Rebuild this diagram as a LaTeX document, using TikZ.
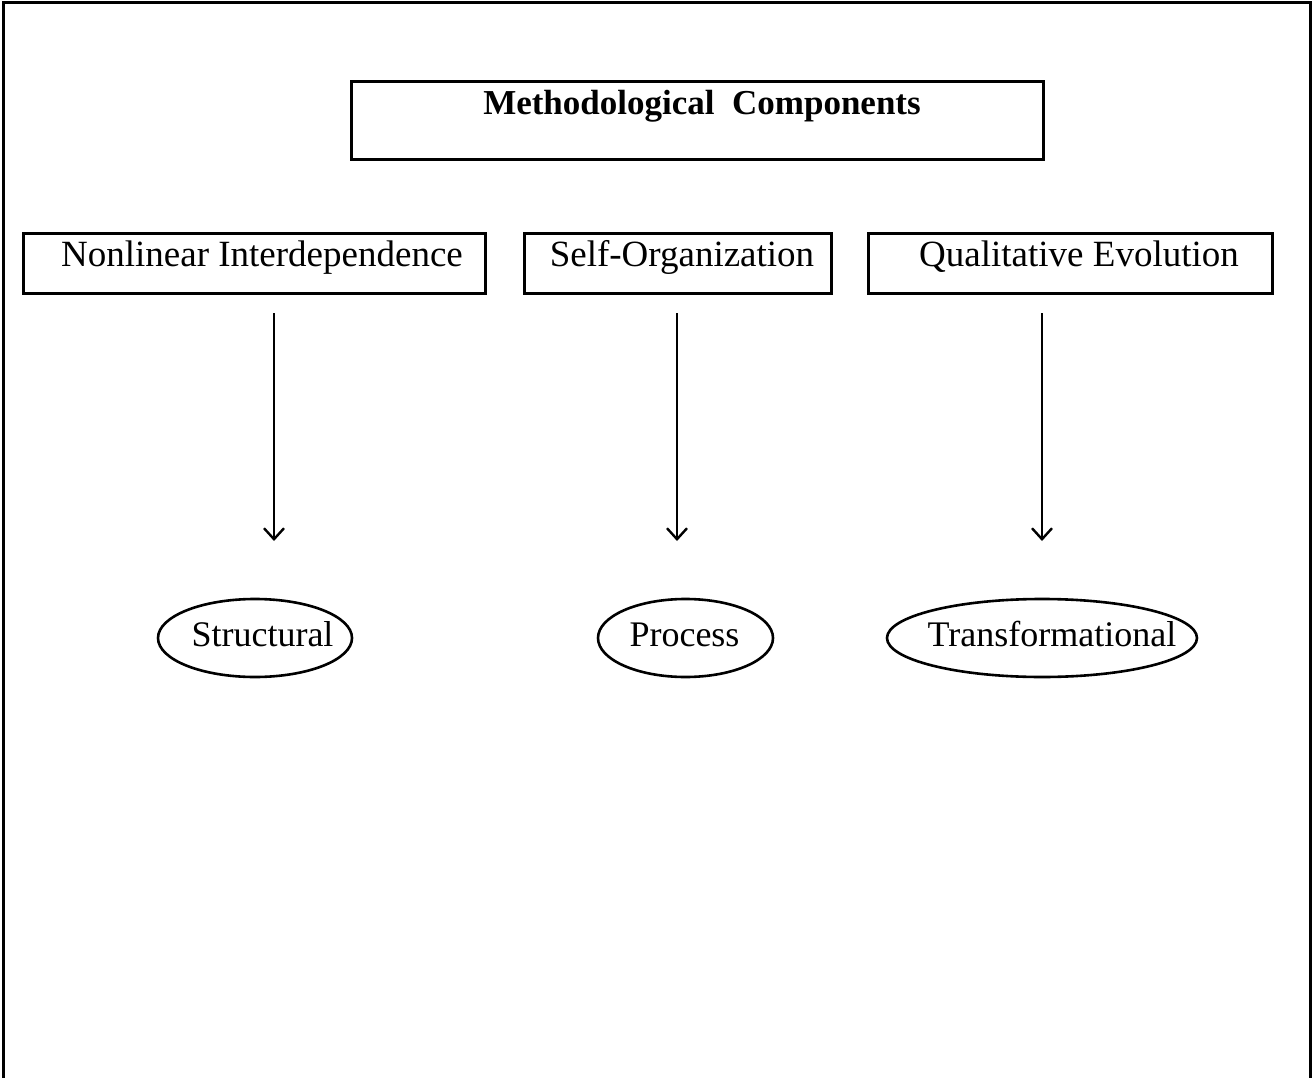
\documentclass[tikz,border=0pt]{standalone}
\usepackage{fontspec}
\setmainfont{Liberation Serif}
\usetikzlibrary{arrows.meta,shapes.geometric}

\tikzset{
  frameline/.style={line width=3pt},
  boxnode/.style={draw, line width=3pt, inner sep=0pt, outer sep=0pt},
  ovalnode/.style={draw, ellipse, line width=2.6pt, inner sep=0pt},
  titletext/.style={anchor=base, inner sep=0pt, font=\fontsize{35}{42}\selectfont\bfseries},
  boxtext/.style={anchor=base, inner sep=0pt, font=\fontsize{37}{44}\selectfont},
  ovaltext/.style={anchor=base, inner sep=0pt, font=\fontsize{36}{42}\selectfont},
  downarrow/.style={line width=2.4pt, -{Straight Barb[length=11pt,width=20pt,line width=2.4pt]}}
}

\begin{document}
\begin{tikzpicture}[x=1pt, y=-1pt]
  \useasboundingbox (0,0) rectangle (1312,1078);

  % outer frame, open at the bottom
  \draw[frameline] (3,1078) -- (3,3) -- (1310,3) -- (1310,1078);

  % heading box
  \node[boxnode, minimum width=692pt, minimum height=78pt] (head) at (697,121) {};
  \node[titletext] (headlbl) at (702,115) {Methodological\ \ Components};

  % component boxes
  \node[boxnode, minimum width=462pt, minimum height=59pt] (nonlin) at (254,263.5) {};
  \node[boxtext] (nonlinlbl) at (262,266) {Nonlinear Interdependence};

  \node[boxnode, minimum width=307pt, minimum height=59pt] (selforg) at (677.5,263.5) {};
  \node[boxtext] (selforglbl) at (682,266) {Self-Organization};

  \node[boxnode, minimum width=404pt, minimum height=59pt] (qualevo) at (1070,263.5) {};
  \node[boxtext] (qualevolbl) at (1079,266) {Qualitative Evolution};

  % outcome ovals
  \node[ovalnode, minimum width=194pt, minimum height=78pt] (struct) at (255,638) {};
  \node[ovaltext] (structlbl) at (262.5,646) {Structural};

  \node[ovalnode, minimum width=175pt, minimum height=78pt] (proc) at (685.5,638) {};
  \node[ovaltext] (proclbl) at (684.5,646) {Process};

  \node[ovalnode, minimum width=310pt, minimum height=78pt] (transf) at (1042,638) {};
  \node[ovaltext] (transflbl) at (1052,646) {Transformational};

  % arrow end points
  \coordinate (a1s) at (274,313);
  \coordinate (a1e) at (274,541);
  \coordinate (a2s) at (677,313);
  \coordinate (a2e) at (677,541);
  \coordinate (a3s) at (1042,313);
  \coordinate (a3e) at (1042,541);

  \draw[downarrow] (a1s) -- (a1e);
  \draw[downarrow] (a2s) -- (a2e);
  \draw[downarrow] (a3s) -- (a3e);
\end{tikzpicture}
\end{document}
